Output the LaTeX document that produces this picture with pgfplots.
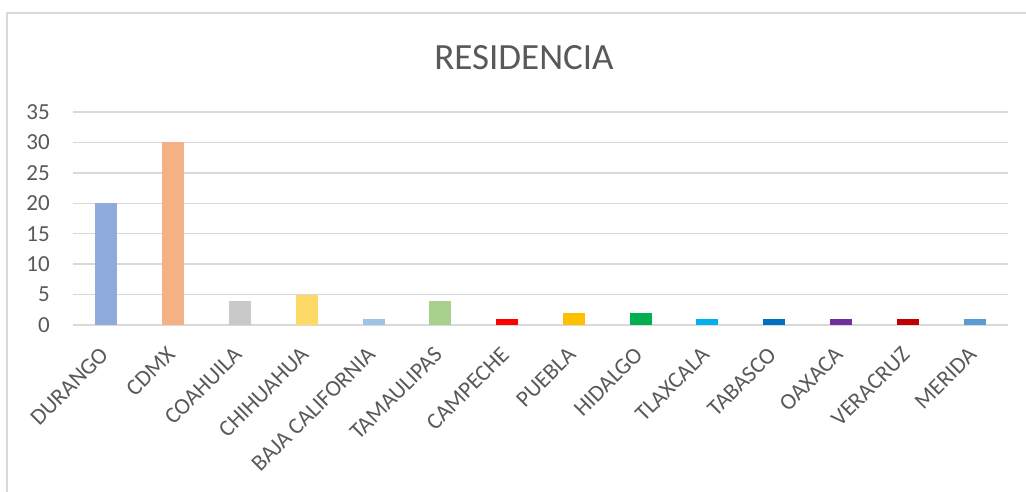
\documentclass[border=0pt]{standalone}
\usepackage{fontspec}
\setmainfont{Carlito}
\usepackage{pgfplots}
\pgfplotsset{compat=1.18}
\usepackage{xcolor}

\definecolor{txt}{HTML}{595959}
\definecolor{gridc}{HTML}{D9D9D9}
\definecolor{c1}{HTML}{8FAADC}
\definecolor{c2}{HTML}{F4B183}
\definecolor{c3}{HTML}{C9C9C9}
\definecolor{c4}{HTML}{FFD966}
\definecolor{c5}{HTML}{9DC3E6}
\definecolor{c6}{HTML}{A9D18E}
\definecolor{c7}{HTML}{FF0000}
\definecolor{c8}{HTML}{FFC000}
\definecolor{c9}{HTML}{00B050}
\definecolor{c10}{HTML}{00B0F0}
\definecolor{c11}{HTML}{0070C0}
\definecolor{c12}{HTML}{7030A0}
\definecolor{c13}{HTML}{C00000}
\definecolor{c14}{HTML}{5B9BD5}

\begin{document}
\begin{tikzpicture}[x=1pt,y=1pt]
\useasboundingbox (0,0) rectangle (1026,491);
% chart area frame (cut at right and bottom as in the original)
\draw[gridc, line width=1.5pt] (7,-1) -- (7,478) -- (1027,478);
\node[txt, font=\fontsize{37}{42}\selectfont] at (524,433) {RESIDENCIA};

\begin{axis}[
    at={(73pt,166pt)}, anchor=south west,
    scale only axis,
    width=935pt, height=213pt,
    xmin=-0.5, xmax=13.5,
    ymin=0, ymax=35,
    ytick={0,5,...,35},
    xtick={0,...,13},
    xticklabels={DURANGO,CDMX,COAHUILA,CHIHUAHUA,BAJA CALIFORNIA,TAMAULIPAS,CAMPECHE,PUEBLA,HIDALGO,TLAXCALA,TABASCO,OAXACA,VERACRUZ,MERIDA},
    axis line style={draw=none},
    major tick length=0pt,
    ymajorgrids=true,
    grid style={gridc, line width=1.5pt},
    tick label style={txt, font=\fontsize{23}{27}\selectfont},
    /pgf/number format/assume math mode=true,
    yticklabel style={anchor=east, inner sep=0pt, xshift=-23pt},
    xticklabel style={inner sep=0pt, yshift=-26pt, xshift=-2pt, rotate=45, anchor=east},
    ybar, bar width=22pt, bar shift=0pt,
    every axis plot/.append style={draw=none},
    clip=false,
]
\addplot[fill=c1]  coordinates {(0,20)};
\addplot[fill=c2]  coordinates {(1,30)};
\addplot[fill=c3]  coordinates {(2,4)};
\addplot[fill=c4]  coordinates {(3,5)};
\addplot[fill=c5]  coordinates {(4,1)};
\addplot[fill=c6]  coordinates {(5,4)};
\addplot[fill=c7]  coordinates {(6,1)};
\addplot[fill=c8]  coordinates {(7,2)};
\addplot[fill=c9]  coordinates {(8,2)};
\addplot[fill=c10] coordinates {(9,1)};
\addplot[fill=c11] coordinates {(10,1)};
\addplot[fill=c12] coordinates {(11,1)};
\addplot[fill=c13] coordinates {(12,1)};
\addplot[fill=c14] coordinates {(13,1)};
\end{axis}
\end{tikzpicture}
\end{document}
